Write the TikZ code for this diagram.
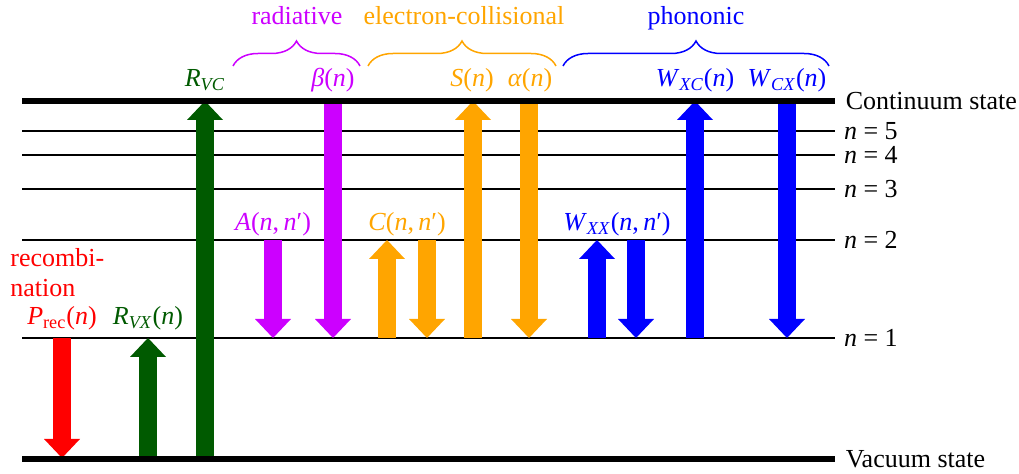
\documentclass[tikz,border=0pt]{standalone}
\usepackage{fontspec}
\newfontfamily\lvfont{Liberation Serif}
\usetikzlibrary{arrows.meta,decorations.pathreplacing}
\definecolor{lvRed}{RGB}{255,0,0}
\definecolor{lvGreen}{RGB}{0,90,0}
\definecolor{lvMagenta}{RGB}{204,0,255}
\definecolor{lvOrange}{RGB}{255,165,0}
\definecolor{lvBlue}{RGB}{0,0,255}
\newcommand{\rt}[2]{\textit{#1}\textsubscript{\textit{#2}}}
\newcommand{\nn}{(\textit{n},\,\textit{n}′)}
\newcommand{\lvn}[1]{\textit{n} = #1}

\begin{document}
\begin{tikzpicture}[
    x=0.5pt, y=-0.5pt,
    font=\lvfont\fontsize{13}{15}\selectfont,
    level/.style={line width=1pt},
    edgelevel/.style={line width=2.8pt},
    fat/.style={line width=9pt, -{Triangle[length=9.5pt,width=18pt,line width=0pt]}},
    brc/.style={decorate, decoration={brace, amplitude=12.5pt}, line width=0.75pt},
    lvlabel/.style={anchor=west, inner sep=0pt},
    rlabel/.style={anchor=base, inner sep=0pt}
]
\useasboundingbox (0,0) rectangle (1019,474);

% -- bound levels
\draw[level] (22,131) -- (835,131) node[lvlabel, right=4pt] (n5) {\lvn{5}};
\draw[level] (22,155) -- (835,155) node[lvlabel, right=4pt] (n4) {\lvn{4}};
\draw[level] (22,189) -- (835,189) node[lvlabel, right=4pt] (n3) {\lvn{3}};
\draw[level] (22,240) -- (835,240) node[lvlabel, right=4pt] (n2) {\lvn{2}};
\draw[level] (22,338) -- (835,338) node[lvlabel, right=4pt] (n1) {\lvn{1}};

% -- recombination and vacuum excitation
\draw[fat, lvRed] (62,338) -- (62,458);
\draw[fat, lvGreen] (148,458) -- (148,338);
\draw[fat, lvGreen] (205,458) -- (205,101);

% -- radiative
\draw[fat, lvMagenta] (273,240) -- (273,338);
\draw[fat, lvMagenta] (333,101) -- (333,338);

% -- electron-collisional
\draw[fat, lvOrange] (387,338) -- (387,240);
\draw[fat, lvOrange] (427,240) -- (427,338);
\draw[fat, lvOrange] (473,338) -- (473,101);
\draw[fat, lvOrange] (529,101) -- (529,338);

% -- phononic
\draw[fat, lvBlue] (597,338) -- (597,240);
\draw[fat, lvBlue] (636,240) -- (636,338);
\draw[fat, lvBlue] (695,338) -- (695,101);
\draw[fat, lvBlue] (787,101) -- (787,338);

% -- continuum and vacuum
\draw[edgelevel] (22,101) -- (835,101) node[lvlabel, right=4pt] (cont) {Continuum state};
\draw[edgelevel] (22,459) -- (835,459) node[lvlabel, right=4pt] (vac) {Vacuum state};

% -- rate labels
\node[rlabel, text=lvRed] (recomb) at (62,325) {\textit{P}\textsubscript{rec}(\textit{n})};
\node[anchor=base west, inner sep=0pt, text=lvRed, align=left] (recnote) at (10,297)
  {recombi-\\nation};
\node[rlabel, text=lvGreen] (rvx) at (148,325) {\rt{R}{VX}(\textit{n})};
\node[rlabel, text=lvGreen] (rvc) at (205,87) {\rt{R}{VC}};
\node[rlabel, text=lvMagenta] (ann) at (273,231) {\textit{A}\nn};
\node[rlabel, text=lvMagenta] (beta) at (333,87) {\textit{β}(\textit{n})};
\node[rlabel, text=lvOrange] (cnn) at (407,231) {\textit{C}\nn};
\node[rlabel, text=lvOrange] (sn) at (472,87) {\textit{S}(\textit{n})};
\node[rlabel, text=lvOrange] (alpha) at (530,87) {\textit{α}(\textit{n})};
\node[rlabel, text=lvBlue] (wxx) at (617,231) {\rt{W}{XX}\nn};
\node[rlabel, text=lvBlue] (wxc) at (695,87) {\rt{W}{XC}(\textit{n})};
\node[rlabel, text=lvBlue] (wcx) at (787,87) {\rt{W}{CX}(\textit{n})};

% -- process groups
\draw[brc, lvMagenta] (233,66) -- (360,66);
\draw[brc, lvOrange] (368,66) -- (556,66);
\draw[brc, lvBlue] (563,66) -- (829,66);
\node[rlabel, text=lvMagenta] (rad) at (297,25) {radiative};
\node[rlabel, text=lvOrange] (ecoll) at (464,25) {electron-collisional};
\node[rlabel, text=lvBlue] (phon) at (696,25) {phononic};

\end{tikzpicture}
\end{document}
